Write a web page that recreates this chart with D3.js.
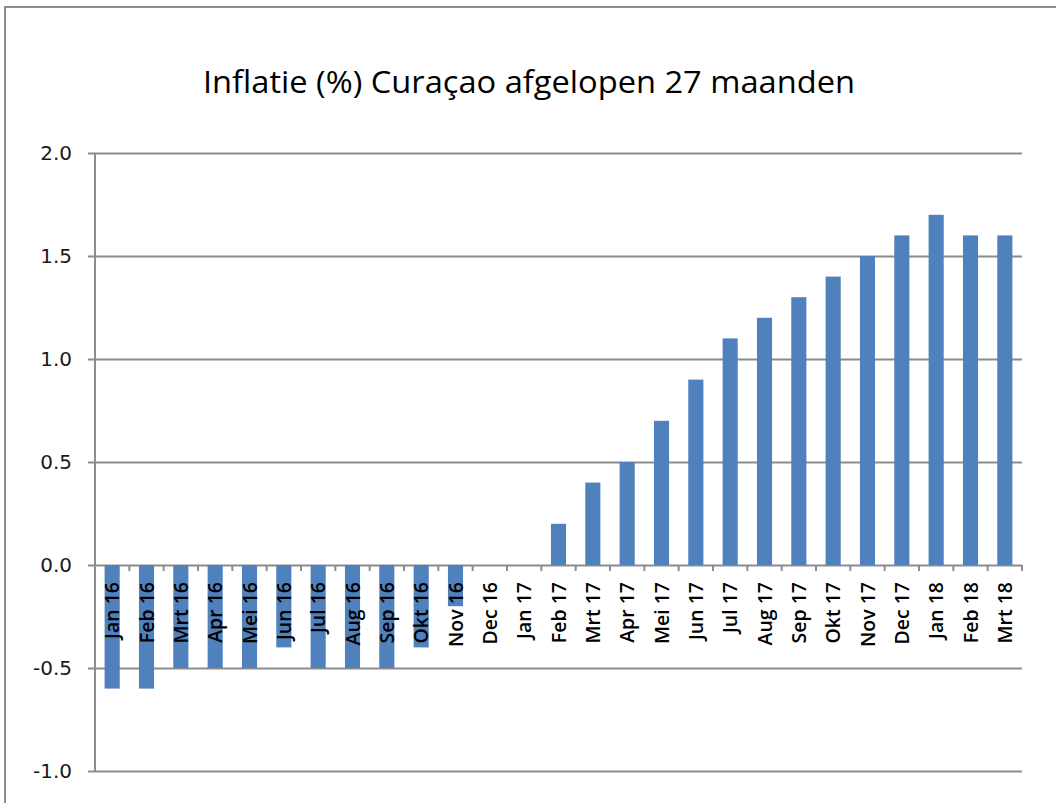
<!DOCTYPE html>
<html>
<head>
<meta charset="utf-8">
<script src="https://cdn.jsdelivr.net/npm/d3@7/dist/d3.min.js"></script>
<style>
  body { margin: 0; background: #fff; }
  svg { display: block; }
</style>
</head>
<body>
<div id="chart"></div>
<script>
// --- Data ---
const titleText = "Inflatie (%) Curaçao afgelopen 27 maanden";
const months = [
  "Jan 16", "Feb 16", "Mrt 16", "Apr 16", "Mei 16", "Jun 16", "Jul 16", "Aug 16", "Sep 16",
  "Okt 16", "Nov 16", "Dec 16", "Jan 17", "Feb 17", "Mrt 17", "Apr 17", "Mei 17", "Jun 17",
  "Jul 17", "Aug 17", "Sep 17", "Okt 17", "Nov 17", "Dec 17", "Jan 18", "Feb 18", "Mrt 18"
];
const inflation = [
  -0.6, -0.6, -0.5, -0.5, -0.5, -0.4, -0.5, -0.5, -0.5,
  -0.4, -0.2, 0.0, 0.0, 0.2, 0.4, 0.5, 0.7, 0.9,
  1.1, 1.2, 1.3, 1.4, 1.5, 1.6, 1.7, 1.6, 1.6
];
const yTicks = [-1.0, -0.5, 0.0, 0.5, 1.0, 1.5, 2.0];

// --- Layout ---
const width = 1056, height = 803;
const plot = { left: 95, right: 1022, top: 153, bottom: 771 };
const gridColor = "#8c8c8c";

const svg = d3.select("#chart").append("svg")
  .attr("width", width)
  .attr("height", height);

// outer chart border
svg.append("rect")
  .attr("x", 5).attr("y", 7)
  .attr("width", 1060).attr("height", 810)
  .attr("fill", "none")
  .attr("stroke", "#8c8c8c")
  .attr("stroke-width", 2);

const x = d3.scaleBand()
  .domain(months)
  .range([plot.left, plot.right])
  .paddingInner(0.56)
  .paddingOuter(0.28);

const y = d3.scaleLinear()
  .domain([-1, 2])
  .range([plot.bottom, plot.top]);

// --- Gridlines + y axis ---
const yAxis = svg.append("g")
  .attr("transform", `translate(${plot.left},0)`)
  .call(d3.axisLeft(y).tickValues(yTicks).tickFormat(d => d.toFixed(1))
    .tickSize(-(plot.right - plot.left)).tickSizeOuter(0).tickPadding(23));
yAxis.select(".domain").remove();
yAxis.selectAll(".tick line")
  .attr("x1", -7)
  .attr("stroke", gridColor)
  .attr("stroke-width", 2);
yAxis.selectAll(".tick text")
  .attr("fill", "#1a1a1a")
  .style("font-family", "'DejaVu Sans', sans-serif")
  .style("font-size", "20px");

// left axis line
svg.append("line")
  .attr("x1", plot.left).attr("x2", plot.left)
  .attr("y1", plot.top).attr("y2", plot.bottom)
  .attr("stroke", gridColor)
  .attr("stroke-width", 2);

// --- Bars ---
svg.append("g").selectAll("rect")
  .data(months)
  .enter()
  .append("rect")
  .attr("x", d => x(d))
  .attr("width", x.bandwidth())
  .attr("y", (d, i) => y(Math.max(0, inflation[i])))
  .attr("height", (d, i) => Math.abs(y(inflation[i]) - y(0)))
  .attr("fill", "#4f81bd");

// --- Category axis at zero ---
const boundaries = d3.range(months.length + 1).map(i => plot.left + i * (plot.right - plot.left) / months.length);
svg.append("g").selectAll("line")
  .data(boundaries)
  .enter()
  .append("line")
  .attr("x1", d => d).attr("x2", d => d)
  .attr("y1", y(0)).attr("y2", y(0) + 6)
  .attr("stroke", gridColor)
  .attr("stroke-width", 2);

svg.append("g").selectAll("text")
  .data(months)
  .enter()
  .append("text")
  .attr("transform", d => `translate(${x(d) + x.bandwidth() / 2 + 7},${y(0) + 17}) rotate(-90)`)
  .attr("text-anchor", "end")
  .attr("fill", "#000")
  .style("font-family", "'Open Sans', sans-serif")
  .style("font-weight", "600")
  .style("font-size", "19.5px")
  .text(d => d);

// --- Title ---
svg.append("text")
  .attr("x", 529)
  .attr("y", 93)
  .attr("text-anchor", "middle")
  .attr("fill", "#000")
  .attr("textLength", 652)
  .attr("lengthAdjust", "spacingAndGlyphs")
  .style("font-family", "'Open Sans', 'Noto Sans', sans-serif")
  .style("font-size", "31px")
  .text(titleText);
</script>
</body>
</html>
